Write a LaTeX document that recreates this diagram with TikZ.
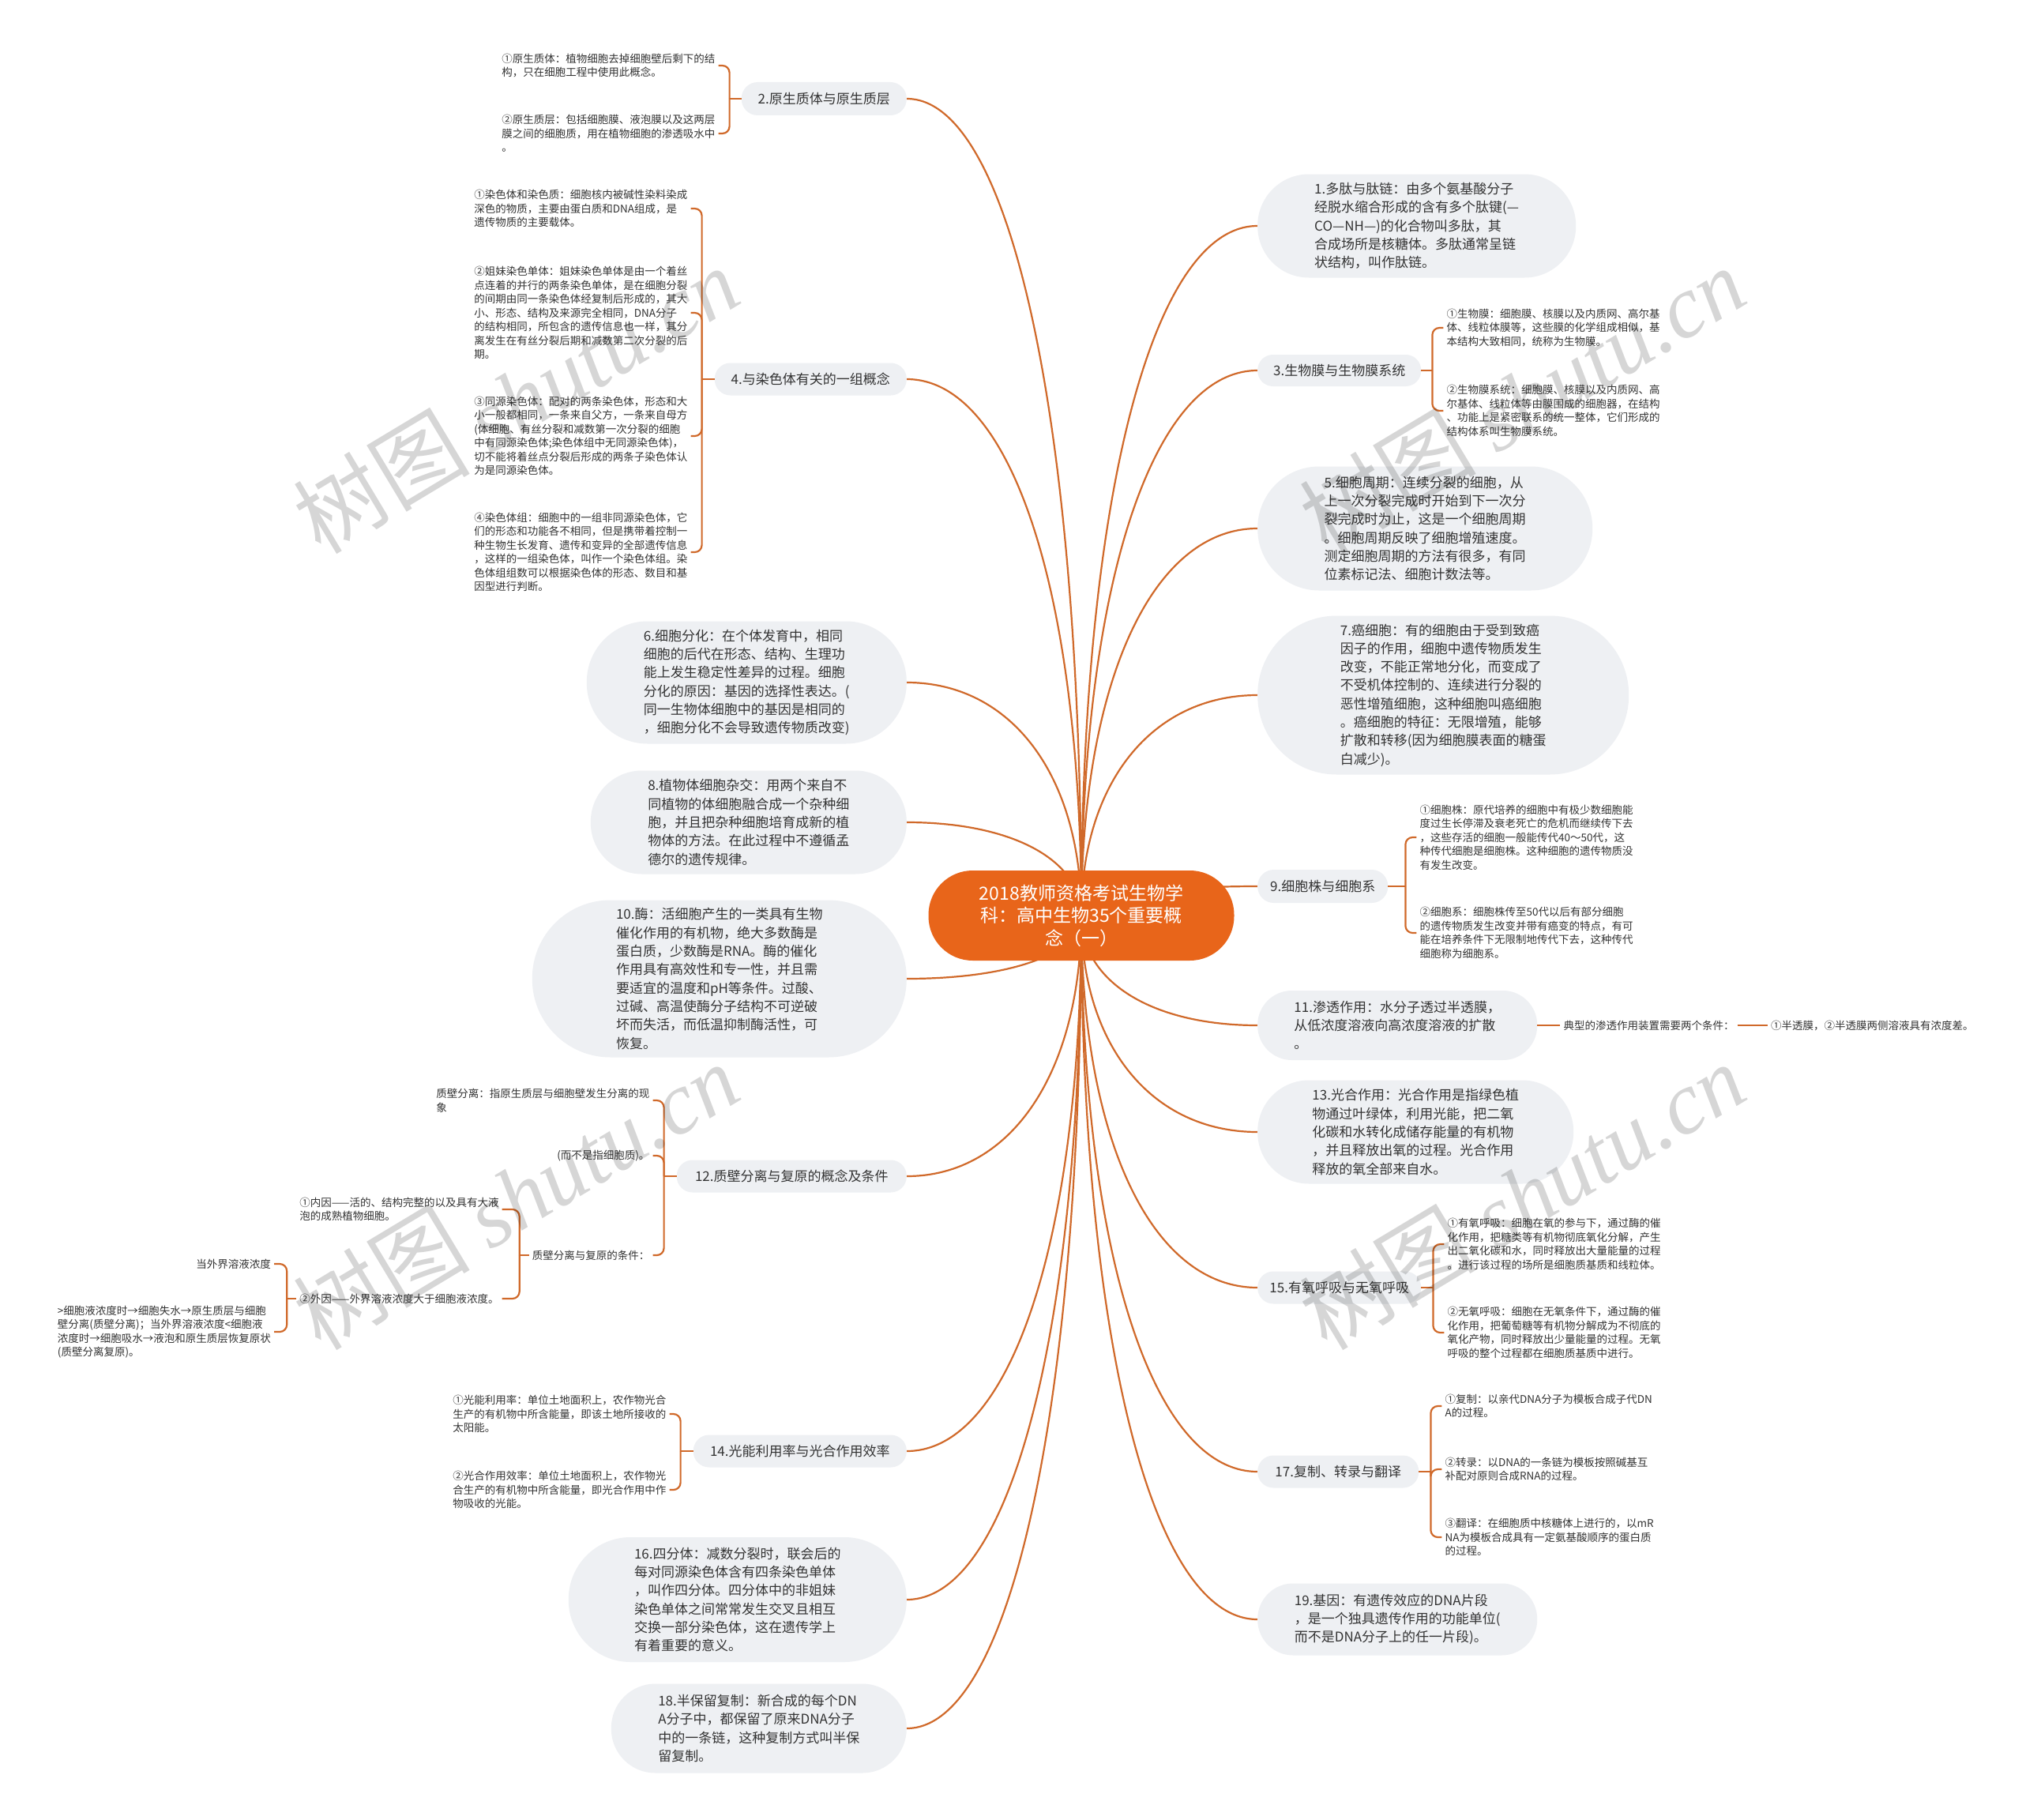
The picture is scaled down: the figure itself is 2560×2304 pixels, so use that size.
\documentclass[tikz,border=0pt]{standalone}
\usepackage{fontspec}
\setmainfont{Noto Sans CJK SC}
\newfontfamily\wmlatin{Liberation Serif}
\usetikzlibrary{backgrounds,calc}
\definecolor{rootc}{HTML}{E8651A}
\definecolor{linkc}{HTML}{D0692A}
\definecolor{boxc}{HTML}{EEF0F3}
\definecolor{txtc}{HTML}{333333}
\tikzset{
  rootnode/.style={fill=rootc, text=white, align=center, inner sep=0pt, minimum width=387pt, minimum height=114pt, rounded corners=56pt, font=\fontsize{23}{28.5}\selectfont},
  bnode/.style={fill=boxc, text=txtc, align=left, inner sep=0pt, font=\fontsize{17}{23.3}\selectfont},
  bn/.style n args={3}{bnode, minimum width=#1pt, minimum height=#2pt, rounded corners=#3pt},
  leaf/.style={text=txtc, align=left, inner sep=4pt, font=\fontsize{13.5}{17.5}\selectfont},
  link/.style={draw=linkc, line width=2.2pt},
  brk/.style={draw=linkc, line width=2.2pt, rounded corners=9pt},
  wm/.style={text=black, opacity=0.16, inner sep=0pt, font=\fontsize{112}{112}\selectfont, rotate=31},
}
\newcommand\mmlink[2]{\draw[link] (root.center) .. controls ($(root.center)!0.6!(root.center |- #1.#2)$) and ($(#1.#2)!0.6!(root.center |- #1.#2)$) .. (#1.#2);}
\begin{document}
\begin{tikzpicture}[x=1pt,y=-1pt]
\useasboundingbox (0,0) rectangle (2560,2304);
\node[rootnode] (root) at (1369,1159) {2018教师资格考试生物学\\科：高中生物35个重要概\\念（一）};

% ---------- right side ----------
\node[bn={403}{131}{65}, anchor=west] (n1) at (1592,286) {1.多肽与肽链：由多个氨基酸分子\\经脱水缩合形成的含有多个肽键(—\\CO—NH—)的化合物叫多肽，其\\合成场所是核糖体。多肽通常呈链\\状结构，叫作肽链。};
\node[bn={207}{40}{19.5}, anchor=west] (n3) at (1592,469) {3.生物膜与生物膜系统};
\node[bn={424}{157}{78}, anchor=west] (n5) at (1592,669) {5.细胞周期：连续分裂的细胞，从\\上一次分裂完成时开始到下一次分\\裂完成时为止，这是一个细胞周期\\。细胞周期反映了细胞增殖速度。\\测定细胞周期的方法有很多，有同\\位素标记法、细胞计数法等。};
\node[bn={470}{201}{100}, anchor=west] (n7) at (1592,880) {7.癌细胞：有的细胞由于受到致癌\\因子的作用，细胞中遗传物质发生\\改变，不能正常地分化，而变成了\\不受机体控制的、连续进行分裂的\\恶性增殖细胞，这种细胞叫癌细胞\\。癌细胞的特征：无限增殖，能够\\扩散和转移(因为细胞膜表面的糖蛋\\白减少)。};
\node[bn={165}{42}{20.5}, anchor=west] (n9) at (1592,1122) {9.细胞株与细胞系};
\node[bn={354}{88}{43.5}, anchor=west] (n11) at (1592,1298) {11.渗透作用：水分子透过半透膜，\\从低浓度溶液向高浓度溶液的扩散\\。};
\node[bn={400}{131}{65}, anchor=west] (n13) at (1592,1433) {13.光合作用：光合作用是指绿色植\\物通过叶绿体，利用光能，把二氧\\化碳和水转化成储存能量的有机物\\，并且释放出氧的过程。光合作用\\释放的氧全部来自水。};
\node[bn={207}{41}{20}, anchor=west] (n15) at (1592,1630) {15.有氧呼吸与无氧呼吸};
\node[bn={204}{41}{20}, anchor=west] (n17) at (1592,1863) {17.复制、转录与翻译};
\node[bn={354}{91}{45}, anchor=west] (n19) at (1592,2050) {19.基因：有遗传效应的DNA片段\\，是一个独具遗传作用的功能单位(\\而不是DNA分子上的任一片段)。};

% ---------- left side ----------
\node[bn={209}{42}{20.5}, anchor=east] (n2) at (1148,125) {2.原生质体与原生质层};
\node[bn={243}{41}{20}, anchor=east] (n4) at (1148,480) {4.与染色体有关的一组概念};
\node[bn={405}{155}{77}, anchor=east] (n6) at (1148,864) {6.细胞分化：在个体发育中，相同\\细胞的后代在形态、结构、生理功\\能上发生稳定性差异的过程。细胞\\分化的原因：基因的选择性表达。(\\同一生物体细胞中的基因是相同的\\，细胞分化不会导致遗传物质改变)};
\node[bn={400}{131}{65}, anchor=east] (n8) at (1148,1041) {8.植物体细胞杂交：用两个来自不\\同植物的体细胞融合成一个杂种细\\胞，并且把杂种细胞培育成新的植\\物体的方法。在此过程中不遵循孟\\德尔的遗传规律。};
\node[bn={474}{199}{99}, anchor=east] (n10) at (1148,1239) {10.酶：活细胞产生的一类具有生物\\催化作用的有机物，绝大多数酶是\\蛋白质，少数酶是RNA。酶的催化\\作用具有高效性和专一性，并且需\\要适宜的温度和pH等条件。过酸、\\过碱、高温使酶分子结构不可逆破\\坏而失活，而低温抑制酶活性，可\\恢复。};
\node[bn={291}{41}{20}, anchor=east] (n12) at (1148,1489) {12.质壁分离与复原的概念及条件};
\node[bn={270}{41}{20}, anchor=east] (n14) at (1148,1837) {14.光能利用率与光合作用效率};
\node[bn={428}{158}{78.5}, anchor=east] (n16) at (1148,2025) {16.四分体：减数分裂时，联会后的\\每对同源染色体含有四条染色单体\\，叫作四分体。四分体中的非姐妹\\染色单体之间常常发生交叉且相互\\交换一部分染色体，这在遗传学上\\有着重要的意义。};
\node[bn={374}{113}{56}, anchor=east] (n18) at (1148,2188) {18.半保留复制：新合成的每个DN\\A分子中，都保留了原来DNA分子\\中的一条链，这种复制方式叫半保\\留复制。};

% ---------- leaves of 2 ----------
\coordinate (b2) at ($(n2.west)+(-15,0)$);
\node[leaf, anchor=east] (c2a) at ($(b2 |- 0,83)+(-14,0)$) {①原生质体：植物细胞去掉细胞壁后剩下的结\\构，只在细胞工程中使用此概念。};
\node[leaf, anchor=east] (c2b) at ($(b2 |- 0,169)+(-14,0)$) {②原生质层：包括细胞膜、液泡膜以及这两层\\膜之间的细胞质，用在植物细胞的渗透吸水中\\。};
\draw[link] (n2.west) -- (b2);
\draw[brk] (b2) |- (c2a.east);
\draw[brk] (b2) |- (c2b.east);

% ---------- leaves of 4 ----------
\coordinate (b4) at ($(n4.west)+(-16,0)$);
\node[leaf, anchor=east] (c4a) at ($(b4 |- 0,264)+(-14,0)$) {①染色体和染色质：细胞核内被碱性染料染成\\深色的物质，主要由蛋白质和DNA组成，是\\遗传物质的主要载体。};
\node[leaf, anchor=east] (c4b) at ($(b4 |- 0,396)+(-14,0)$) {②姐妹染色单体：姐妹染色单体是由一个着丝\\点连着的并行的两条染色单体，是在细胞分裂\\的间期由同一条染色体经复制后形成的，其大\\小、形态、结构及来源完全相同，DNA分子\\的结构相同，所包含的遗传信息也一样，其分\\离发生在有丝分裂后期和减数第二次分裂的后\\期。};
\node[leaf, anchor=east] (c4c) at ($(b4 |- 0,552)+(-14,0)$) {③同源染色体：配对的两条染色体，形态和大\\小一般都相同，一条来自父方，一条来自母方\\(体细胞、有丝分裂和减数第一次分裂的细胞\\中有同源染色体;染色体组中无同源染色体)，\\切不能将着丝点分裂后形成的两条子染色体认\\为是同源染色体。};
\node[leaf, anchor=east] (c4d) at ($(b4 |- 0,699)+(-14,0)$) {④染色体组：细胞中的一组非同源染色体，它\\们的形态和功能各不相同，但是携带着控制一\\种生物生长发育、遗传和变异的全部遗传信息\\，这样的一组染色体，叫作一个染色体组。染\\色体组组数可以根据染色体的形态、数目和基\\因型进行判断。};
\draw[link] (n4.west) -- (b4);
\foreach \c in {c4a,c4b,c4c,c4d} \draw[brk] (b4) |- (\c.east);

% ---------- leaves of 12 ----------
\coordinate (b12) at ($(n12.west)+(-16,0)$);
\node[leaf, anchor=east] (c12a) at ($(b12 |- 0,1393)+(-14,0)$) {质壁分离：指原生质层与细胞壁发生分离的现\\象};
\node[leaf, anchor=east] (c12b) at ($(b12 |- 0,1463)+(-14,0)$) {(而不是指细胞质)。};
\node[leaf, anchor=east] (c12c) at ($(b12 |- 0,1589)+(-14,0)$) {质壁分离与复原的条件：};
\draw[link] (n12.west) -- (b12);
\foreach \c in {c12a,c12b,c12c} \draw[brk] (b12) |- (\c.east);
\coordinate (b12c) at ($(c12c.west)+(-12,0)$);
\node[leaf, anchor=east] (c12d) at ($(b12c |- 0,1531)+(-22,0)$) {①内因——活的、结构完整的以及具有大液\\泡的成熟植物细胞。};
\node[leaf, anchor=east] (c12e) at ($(b12c |- 0,1644)+(-22,0)$) {②外因——外界溶液浓度大于细胞液浓度。};
\draw[link] (c12c.west) -- (b12c);
\foreach \c in {c12d,c12e} \draw[brk] (b12c) |- (\c.east);
\coordinate (b12e) at ($(c12e.west)+(-12,0)$);
\node[leaf, anchor=east] (c12f) at ($(b12e |- 0,1600)+(-16,0)$) {当外界溶液浓度};
\node[leaf, anchor=east] (c12g) at ($(b12e |- 0,1686)+(-16,0)$) {>细胞液浓度时→细胞失水→原生质层与细胞\\壁分离(质壁分离)；当外界溶液浓度<细胞液\\浓度时→细胞吸水→液泡和原生质层恢复原状\\(质壁分离复原)。};
\draw[link] (c12e.west) -- (b12e);
\foreach \c in {c12f,c12g} \draw[brk] (b12e) |- (\c.east);

% ---------- leaves of 14 ----------
\coordinate (b14) at ($(n14.west)+(-16,0)$);
\node[leaf, anchor=east] (c14a) at ($(b14 |- 0,1790)+(-14,0)$) {①光能利用率：单位土地面积上，农作物光合\\生产的有机物中所含能量，即该土地所接收的\\太阳能。};
\node[leaf, anchor=east] (c14b) at ($(b14 |- 0,1886)+(-14,0)$) {②光合作用效率：单位土地面积上，农作物光\\合生产的有机物中所含能量，即光合作用中作\\物吸收的光能。};
\draw[link] (n14.west) -- (b14);
\foreach \c in {c14a,c14b} \draw[brk] (b14) |- (\c.east);

% ---------- leaves of 3 ----------
\coordinate (b3) at ($(n3.east)+(14,0)$);
\node[leaf, anchor=west] (c3a) at ($(b3 |- 0,415)+(14,0)$) {①生物膜：细胞膜、核膜以及内质网、高尔基\\体、线粒体膜等，这些膜的化学组成相似，基\\本结构大致相同，统称为生物膜。};
\node[leaf, anchor=west] (c3b) at ($(b3 |- 0,520)+(14,0)$) {②生物膜系统：细胞膜、核膜以及内质网、高\\尔基体、线粒体等由膜围成的细胞器，在结构\\、功能上是紧密联系的统一整体，它们形成的\\结构体系叫生物膜系统。};
\draw[link] (n3.east) -- (b3);
\foreach \c in {c3a,c3b} \draw[brk] (b3) |- (\c.west);

% ---------- leaves of 9 ----------
\coordinate (b9) at ($(n9.east)+(22,0)$);
\node[leaf, anchor=west] (c9a) at ($(b9 |- 0,1060)+(14,0)$) {①细胞株：原代培养的细胞中有极少数细胞能\\度过生长停滞及衰老死亡的危机而继续传下去\\，这些存活的细胞一般能传代40～50代，这\\种传代细胞是细胞株。这种细胞的遗传物质没\\有发生改变。};
\node[leaf, anchor=west] (c9b) at ($(b9 |- 0,1181)+(14,0)$) {②细胞系：细胞株传至50代以后有部分细胞\\的遗传物质发生改变并带有癌变的特点，有可\\能在培养条件下无限制地传代下去，这种传代\\细胞称为细胞系。};
\draw[link] (n9.east) -- (b9);
\foreach \c in {c9a,c9b} \draw[brk] (b9) |- (\c.west);

% ---------- leaves of 11 ----------
\node[leaf, anchor=west] (l11a) at ($(n11.east)+(29,0)$) {典型的渗透作用装置需要两个条件：};
\node[leaf, anchor=west] (l11b) at ($(l11a.east)+(38,0)$) {①半透膜，②半透膜两侧溶液具有浓度差。};
\draw[link] (n11.east) -- (l11a.west);
\draw[link] (l11a.east) -- (l11b.west);

% ---------- leaves of 15 ----------
\coordinate (b15) at ($(n15.east)+(15,0)$);
\node[leaf, anchor=west] (c15a) at ($(b15 |- 0,1575)+(14,0)$) {①有氧呼吸：细胞在氧的参与下，通过酶的催\\化作用，把糖类等有机物彻底氧化分解，产生\\出二氧化碳和水，同时释放出大量能量的过程\\。进行该过程的场所是细胞质基质和线粒体。};
\node[leaf, anchor=west] (c15b) at ($(b15 |- 0,1687)+(14,0)$) {②无氧呼吸：细胞在无氧条件下，通过酶的催\\化作用，把葡萄糖等有机物分解成为不彻底的\\氧化产物，同时释放出少量能量的过程。无氧\\呼吸的整个过程都在细胞质基质中进行。};
\draw[link] (n15.east) -- (b15);
\foreach \c in {c15a,c15b} \draw[brk] (b15) |- (\c.west);

% ---------- leaves of 17 ----------
\coordinate (b17) at ($(n17.east)+(15,0)$);
\node[leaf, anchor=west] (c17a) at ($(b17 |- 0,1780)+(14,0)$) {①复制：以亲代DNA分子为模板合成子代DN\\A的过程。};
\node[leaf, anchor=west] (c17b) at ($(b17 |- 0,1860)+(14,0)$) {②转录：以DNA的一条链为模板按照碱基互\\补配对原则合成RNA的过程。};
\node[leaf, anchor=west] (c17c) at ($(b17 |- 0,1946)+(14,0)$) {③翻译：在细胞质中核糖体上进行的，以mR\\NA为模板合成具有一定氨基酸顺序的蛋白质\\的过程。};
\draw[link] (n17.east) -- (b17);
\foreach \c in {c17a,c17b,c17c} \draw[brk] (b17) |- (\c.west);

% ---------- main connectors ----------
\begin{pgfonlayer}{background}
\fill[white] (0,0) rectangle (2560,2304);
\foreach \n in {n1,n3,n5,n7,n9,n11,n13,n15,n17,n19} {\mmlink{\n}{west}}
\foreach \n in {n2,n4,n6,n8,n10,n12,n14,n16,n18} {\mmlink{\n}{east}}
\end{pgfonlayer}

% ---------- watermarks ----------
\node[wm] (wm1) at (653,506) {树图 {\wmlatin\itshape shutu.cn}};
\node[wm] (wm2) at (1927,506) {树图 {\wmlatin\itshape shutu.cn}};
\node[wm] (wm3) at (653,1514) {树图 {\wmlatin\itshape shutu.cn}};
\node[wm] (wm4) at (1927,1514) {树图 {\wmlatin\itshape shutu.cn}};
\end{tikzpicture}
\end{document}
